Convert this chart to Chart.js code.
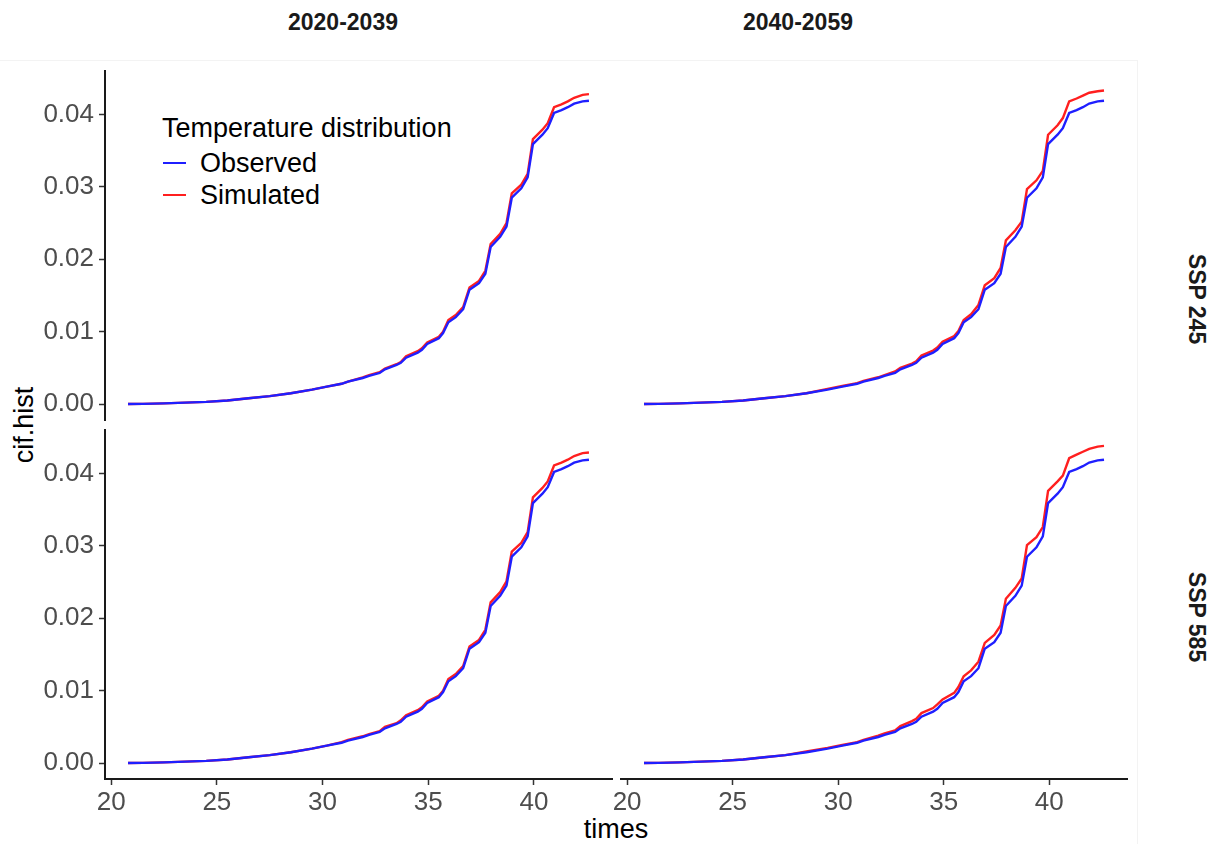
<!DOCTYPE html>
<html lang="en">
<head>
<meta charset="utf-8">
<title>cif.hist by period and scenario</title>
<script src="https://cdn.jsdelivr.net/npm/chart.js@4.4.1/dist/chart.umd.min.js"></script>
<style>
  body {
    margin: 0;
    width: 1210px;
    height: 844px;
    background: #fff;
    position: relative;
    overflow: hidden;
    font-family: 'Liberation Sans', Arial, sans-serif;
  }
  .frame {
    position: absolute;
    left: 0; top: 60px;
    width: 1137px; height: 784px;
    border-top: 1px solid #f3f3f3;
    border-right: 1px solid #f3f3f3;
  }
  canvas { position: absolute; }
  .lbl {
    position: absolute;
    white-space: nowrap;
    transform: translate(-50%, -50%);
  }
  .strip { font-weight: bold; font-size: 23px; color: #1a1a1a; }
  .strip-y { writing-mode: vertical-rl; }
  .axis-title { font-size: 27px; color: #000; }
  .legend { position: absolute; left: 162px; top: 111px; color: #000; font-size: 27px; }
  .legend-title { height: 36px; line-height: 34px; }
  .legend-item { height: 32px; line-height: 32px; display: flex; align-items: center; }
  .legend-key { width: 23px; height: 2px; margin: 0 14px 0 1px; }
</style>
</head>
<body>

<div class="frame"></div>

<div class="lbl strip" style="left:343px; top:22px;">2020-2039</div>
<div class="lbl strip" style="left:798px; top:22px;">2040-2059</div>
<div class="lbl strip strip-y" style="left:1196px; top:299px;">SSP 245</div>
<div class="lbl strip strip-y" style="left:1196px; top:617px;">SSP 585</div>
<div class="lbl axis-title" style="left:24px; top:425px; transform:translate(-50%,-50%) rotate(-90deg);">cif.hist</div>
<div class="lbl axis-title" style="left:616px; top:829px;">times</div>

<div class="legend" id="legend"></div>

<canvas id="p11" width="616" height="365" style="left:0;   top:60px;"></canvas>
<canvas id="p12" width="531" height="365" style="left:600px; top:60px;"></canvas>
<canvas id="p21" width="616" height="419" style="left:0;   top:425px;"></canvas>
<canvas id="p22" width="531" height="419" style="left:600px; top:425px;"></canvas>

<script>
// ================================================
//  cif.hist — observed vs simulated temperature
//  2 periods x 2 scenarios, one Chart.js chart per panel
// ================================================

//  DATA

const periods   = ['2020-2039', '2040-2059'];
const scenarios = ['SSP 245', 'SSP 585'];
const seriesNames = ['Observed', 'Simulated'];

const xTicks = [20, 25, 30, 35, 40];
const yTicks = [0, 0.01, 0.02, 0.03, 0.04];

const times = [
  20.8, 21.5, 22.5, 23.5, 24.5, 25.5, 26.5, 27.5, 28.5, 29.5,
  30.2, 30.9, 31.2, 31.9, 32.2, 32.7, 32.95, 33.5, 33.7, 33.95,
  34.5, 34.7, 34.95, 35.5, 35.7, 35.95, 36.3, 36.65, 36.95, 37.4,
  37.7, 37.95, 38.4, 38.7, 38.95, 39.4, 39.7, 39.95, 40.4, 40.65,
  40.95, 41.3, 41.6, 41.9, 42.3, 42.6,
];

// observed distribution is the same in every panel
const observed = [
  0, 0.00003, 0.0001, 0.0002, 0.0003, 0.0005, 0.0008, 0.0011, 0.0015, 0.0020,
  0.0024, 0.0028, 0.0031, 0.0036, 0.0039, 0.0043, 0.0048, 0.0054, 0.0057, 0.0064,
  0.0071, 0.0075, 0.0083, 0.0091, 0.0098, 0.0113, 0.0120, 0.0131, 0.0158, 0.0167,
  0.0180, 0.0217, 0.0231, 0.0245, 0.0285, 0.0298, 0.0313, 0.0359, 0.0372, 0.0381,
  0.0402, 0.0406, 0.0410, 0.0415, 0.0418, 0.0419,
];

const simulated2020ssp245 = [
  0, 0.00003, 0.0001, 0.0002, 0.0003, 0.0005, 0.0008, 0.0011, 0.0015, 0.0020,
  0.0024, 0.0028, 0.0031, 0.0037, 0.0040, 0.0044, 0.0049, 0.0055, 0.0058, 0.0066,
  0.0073, 0.0077, 0.0085, 0.0093, 0.0100, 0.0116, 0.0123, 0.0134, 0.0161, 0.0170,
  0.0184, 0.0221, 0.0235, 0.0250, 0.0291, 0.0303, 0.0318, 0.0366, 0.0379, 0.0388,
  0.0410, 0.0414, 0.0418, 0.0423, 0.0427, 0.0428,
];

const simulated2040ssp245 = [
  0, 0.00003, 0.0001, 0.0002, 0.0003, 0.0005, 0.0008, 0.0011, 0.0015, 0.0021,
  0.0025, 0.0029, 0.0032, 0.0037, 0.0040, 0.0045, 0.0050, 0.0056, 0.0059, 0.0067,
  0.0074, 0.0078, 0.0086, 0.0094, 0.0101, 0.0116, 0.0124, 0.0137, 0.0164, 0.0174,
  0.0188, 0.0226, 0.0240, 0.0252, 0.0297, 0.0309, 0.0322, 0.0372, 0.0385, 0.0395,
  0.0418, 0.0422, 0.0426, 0.0430, 0.0432, 0.0433,
];

const simulated2020ssp585 = [
  0, 0.00003, 0.0001, 0.0002, 0.0003, 0.0005, 0.0008, 0.0011, 0.0015, 0.0020,
  0.0024, 0.0029, 0.0032, 0.0037, 0.0040, 0.0044, 0.0050, 0.0055, 0.0059, 0.0066,
  0.0073, 0.0077, 0.0085, 0.0093, 0.0100, 0.0116, 0.0123, 0.0134, 0.0161, 0.0170,
  0.0184, 0.0222, 0.0236, 0.0251, 0.0292, 0.0304, 0.0319, 0.0367, 0.0380, 0.0389,
  0.0411, 0.0415, 0.0419, 0.0424, 0.0428, 0.0429,
];

const simulated2040ssp585 = [
  0, 0.00003, 0.0001, 0.0002, 0.0003, 0.0005, 0.0008, 0.0011, 0.0016, 0.0021,
  0.0025, 0.0029, 0.0032, 0.0038, 0.0041, 0.0045, 0.0051, 0.0058, 0.0061, 0.0069,
  0.0076, 0.0081, 0.0088, 0.0097, 0.0105, 0.0120, 0.0128, 0.0140, 0.0166, 0.0177,
  0.0190, 0.0227, 0.0242, 0.0255, 0.0301, 0.0312, 0.0326, 0.0376, 0.0389, 0.0397,
  0.0421, 0.0426, 0.0430, 0.0434, 0.0437, 0.0438,
];

//  STYLE

const FONT       = "'Liberation Sans', Arial, sans-serif";
const COLORS     = { Observed: '#1f1fff', Simulated: '#ff1f1f' };
const AXIS_COLOR = '#1a1a1a';
const TICK_TEXT  = '#4d4d4d';

// ggplot-style 5% expansion around the data range
const X_MIN = 19.71, X_MAX = 43.69;
const Y_MIN = -0.0022, Y_MAX = 0.046;

//  LEGEND (HTML, inside the top-left panel)

document.getElementById('legend').innerHTML =
  '<div class="legend-title">Temperature distribution</div>' +
  seriesNames.map(name => `
    <div class="legend-item">
      <span class="legend-key" style="background:${COLORS[name]}"></span>${name}
    </div>`).join('');

//  PANELS

const panels = [
  { id: 'p11', sim: simulated2020ssp245, showX: false, showY: true,  pad: { left: 0,  right: 4, top: 11, bottom: 5 } },
  { id: 'p12', sim: simulated2040ssp245, showX: false, showY: false, pad: { left: 21, right: 4, top: 11, bottom: 5 } },
  { id: 'p21', sim: simulated2020ssp585, showX: true,  showY: true,  pad: { left: 0,  right: 4, top: 5,  bottom: 0 } },
  { id: 'p22', sim: simulated2040ssp585, showX: true,  showY: false, pad: { left: 21, right: 4, top: 5,  bottom: 0 } },
];

function toPoints(values) {
  return times.map((t, i) => ({ x: t, y: values[i] }));
}

function makeDataset(label, values) {
  return {
    label,
    data:        toPoints(values),
    borderColor: COLORS[label],
    borderWidth: 2.4,
    pointRadius: 0,
    tension:     0,
    fill:        false,
  };
}

// hidden axes must not reserve any room, and labels must not
// push the plot area inwards (panels share exact positions)
function axisStyle(show, ticks, fmt, fixedSize, isX) {
  return {
    type:    'linear',
    display: show,
    afterBuildTicks: s => { s.ticks = ticks.map(v => ({ value: v })); },
    afterFit: s => {
      s.paddingTop = 0;  s.paddingBottom = 0;
      s.paddingLeft = 0; s.paddingRight = 0;
      if (!show) return;
      if (isX) s.height = fixedSize; else s.width = fixedSize;
    },
    border: { display: true, color: AXIS_COLOR, width: 2 },
    grid: {
      drawOnChartArea: false,
      drawTicks:  true,
      tickLength: 6,
      tickWidth:  1.5,
      color:      '#333333',
    },
    ticks: {
      color:    TICK_TEXT,
      font:     { family: FONT, size: 26 },
      padding:  isX ? 2 : 5,
      maxRotation: 0,
      callback: fmt,
    },
  };
}

panels.forEach(p => {
  const canvas = document.getElementById(p.id);

  const x = axisStyle(p.showX, xTicks, v => String(v), 65, true);
  x.min = X_MIN; x.max = X_MAX;
  const y = axisStyle(p.showY, yTicks, v => v.toFixed(2), 105, false);
  y.min = Y_MIN; y.max = Y_MAX;

  new Chart(canvas, {
    type: 'line',
    data: {
      datasets: [
        makeDataset('Observed', observed),
        makeDataset('Simulated', p.sim),
      ],
    },
    options: {
      responsive: false,
      animation:  false,
      layout: { padding: p.pad },
      plugins: {
        legend:  { display: false },
        tooltip: { enabled: false },
      },
      scales: { x, y },
    },
  });
});
</script>
</body>
</html>
